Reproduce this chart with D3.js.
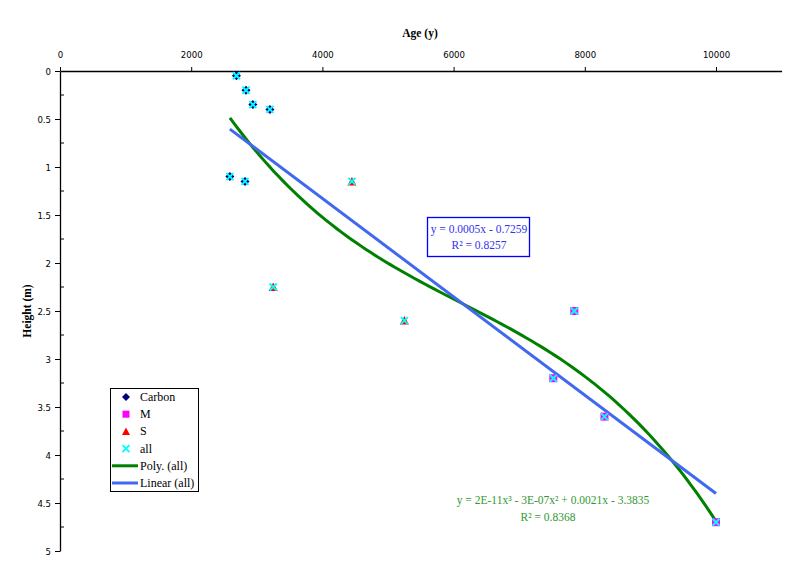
<!DOCTYPE html>
<html><head><meta charset="utf-8">
<script src="https://cdn.jsdelivr.net/npm/d3@7"></script>
<style>body{margin:0;background:#fff}svg{display:block}</style>
</head><body>
<svg id="c" width="810" height="561"></svg>
<script>
// ---- data ----
const carbonAge = [2690, 2835, 2940, 3200, 2590, 2820];
const carbonHeight = [0.05, 0.20, 0.35, 0.40, 1.10, 1.15];
const sAge = [4450, 3250, 5250];
const sHeight = [1.15, 2.25, 2.60];
const mAge = [7840, 7520, 8300, 10000];
const mHeight = [2.50, 3.20, 3.60, 4.70];
const xTicks = [0, 2000, 4000, 6000, 8000, 10000];
const yTicks = [0, 0.5, 1, 1.5, 2, 2.5, 3, 3.5, 4, 4.5, 5];
const legendLabels = ["Carbon", "M", "S", "all", "Poly. (all)", "Linear (all)"];
const linEqText = ["y = 0.0005x - 0.7259", "R² = 0.8257"];
const polyEqText = ["y = 2E-11x³ - 3E-07x² + 0.0021x - 3.3835", "R² = 0.8368"];

const svg = d3.select("#c");
const x = d3.scaleLinear().domain([0, 11000]).range([60, 781.6]);
const y = d3.scaleLinear().domain([0, 5]).range([71, 551]);

// axes
const xa = svg.append("g").attr("transform", "translate(0,71)")
  .call(d3.axisTop(x).tickValues(xTicks).tickFormat(d3.format("d")).tickSize(4).tickPadding(9).tickSizeOuter(0));
const ya = svg.append("g").attr("transform", "translate(60,0)")
  .call(d3.axisLeft(y).tickValues(yTicks).tickFormat(d3.format("")).tickSize(5).tickPadding(4).tickSizeOuter(0));
[xa, ya].forEach(g => {
  g.selectAll("path").attr("stroke", "#000").attr("stroke-width", 1.3);
  g.selectAll("line").attr("stroke", "#000");
  g.selectAll("text").attr("font-family", "DejaVu Sans Condensed, DejaVu Sans").attr("font-size", 9.5).attr("fill", "#000");
});
// minor ticks (inside)
const minor = d3.range(0.25, 5, 0.5);
svg.append("g").selectAll("line").data(minor).join("line")
  .attr("x1", 60).attr("x2", 64).attr("y1", d => y(d)).attr("y2", d => y(d)).attr("stroke", "#000");

// axis titles
svg.append("text").attr("x", 420).attr("y", 37).attr("text-anchor", "middle")
  .attr("font-family", "Liberation Serif").attr("font-weight", "bold").attr("font-size", 11.5).text("Age (y)");
svg.append("text").attr("transform", "translate(31,311) rotate(-90)").attr("text-anchor", "middle")
  .attr("font-family", "Liberation Serif").attr("font-weight", "bold").attr("font-size", 11.5).text("Height (m)");

// all data
const allAge = carbonAge.concat(mAge, sAge);
const allH = carbonHeight.concat(mHeight, sHeight);

// regression: linear
const n = allAge.length;
const mx = d3.mean(allAge), my = d3.mean(allH);
let sxy = 0, sxx = 0;
for (let i = 0; i < n; i++) { sxy += (allAge[i] - mx) * (allH[i] - my); sxx += (allAge[i] - mx) ** 2; }
const b1 = sxy / sxx, b0 = my - b1 * mx;
// cubic via normal equations on scaled x
function solve(A, b) {
  const m = A.length; A = A.map((r, i) => r.concat([b[i]]));
  for (let i = 0; i < m; i++) {
    let p = i; for (let k = i + 1; k < m; k++) if (Math.abs(A[k][i]) > Math.abs(A[p][i])) p = k;
    [A[i], A[p]] = [A[p], A[i]];
    for (let k = i + 1; k < m; k++) { const f = A[k][i] / A[i][i]; for (let j = i; j <= m; j++) A[k][j] -= f * A[i][j]; }
  }
  const r = new Array(m);
  for (let i = m - 1; i >= 0; i--) { let s = A[i][m]; for (let j = i + 1; j < m; j++) s -= A[i][j] * r[j]; r[i] = s / A[i][i]; }
  return r;
}
const deg = 3;
const M = [], B = [];
for (let i = 0; i <= deg; i++) {
  M.push([]); let s = 0;
  for (let k = 0; k < n; k++) s += Math.pow(allAge[k] / 1000, i) * allH[k];
  B.push(s);
  for (let j = 0; j <= deg; j++) { let t = 0; for (let k = 0; k < n; k++) t += Math.pow(allAge[k] / 1000, i + j); M[i].push(t); }
}
const coef = solve(M, B);
const poly = v => coef.reduce((s, c, i) => s + c * Math.pow(v / 1000, i), 0);
const xmin = d3.min(allAge), xmax = d3.max(allAge);
const samples = d3.range(0, 101).map(i => xmin + (xmax - xmin) * i / 100);

svg.append("path").datum(samples).attr("fill", "none").attr("stroke", "#008000").attr("stroke-width", 3)
  .attr("d", d3.line().x(d => x(d)).y(d => y(poly(d))));
svg.append("path").datum([xmin, xmax]).attr("fill", "none").attr("stroke", "#4169f0").attr("stroke-width", 3)
  .attr("d", d3.line().x(d => x(d)).y(d => y(b0 + b1 * d)));

// markers
const gm = svg.append("g");
gm.selectAll(".c").data(carbonAge).join("path")
  .attr("transform", (d, i) => `translate(${x(d)},${y(carbonHeight[i])})`)
  .attr("d", "M0,-4.5L4.5,0L0,4.5L-4.5,0Z").attr("fill", "#000080");
gm.selectAll(".m").data(mAge).join("rect")
  .attr("x", d => x(d) - 4).attr("y", (d, i) => y(mHeight[i]) - 4).attr("width", 8).attr("height", 8).attr("fill", "#ff00ff");
gm.selectAll(".s").data(sAge).join("path")
  .attr("transform", (d, i) => `translate(${x(d)},${y(sHeight[i])})`)
  .attr("d", "M0,-4.5L4.5,4L-4.5,4Z").attr("fill", "#ff0000");
gm.selectAll(".a").data(allAge).join("path")
  .attr("transform", (d, i) => `translate(${x(d)},${y(allH[i])})`)
  .attr("d", "M-3.5,-3.5L3.5,3.5M3.5,-3.5L-3.5,3.5").attr("stroke", "#00ffff").attr("stroke-width", 2);

// legend
const lg = svg.append("g");
lg.append("rect").attr("x", 110.5).attr("y", 388.5).attr("width", 88).attr("height", 103)
  .attr("fill", "#fff").attr("stroke", "#000").attr("stroke-width", 1);
const ly = i => 397 + i * 17.2;
lg.append("path").attr("transform", `translate(126,${ly(0)})`).attr("d", "M0,-4L4,0L0,4L-4,0Z").attr("fill", "#000080");
lg.append("rect").attr("x", 122.5).attr("y", ly(1) - 3.5).attr("width", 7).attr("height", 7).attr("fill", "#ff00ff");
lg.append("path").attr("transform", `translate(126,${ly(2)})`).attr("d", "M0,-4L4,3.5L-4,3.5Z").attr("fill", "#ff0000");
lg.append("path").attr("transform", `translate(126,${ly(3)})`).attr("d", "M-3.5,-3.5L3.5,3.5M3.5,-3.5L-3.5,3.5").attr("stroke", "#00ffff").attr("stroke-width", 2);
lg.append("line").attr("x1", 112).attr("x2", 138).attr("y1", ly(4)).attr("y2", ly(4)).attr("stroke", "#008000").attr("stroke-width", 3);
lg.append("line").attr("x1", 112).attr("x2", 138).attr("y1", ly(5)).attr("y2", ly(5)).attr("stroke", "#4169f0").attr("stroke-width", 3);
lg.selectAll("text.l").data(legendLabels).join("text")
  .attr("x", 140).attr("y", (d, i) => ly(i) + 4).attr("font-family", "Liberation Serif").attr("font-size", 12).attr("fill", "#000").text(d => d);

// equation boxes
svg.append("rect").attr("x", 427.5).attr("y", 217.5).attr("width", 102).attr("height", 39)
  .attr("fill", "#fff").attr("stroke", "#0000ff").attr("stroke-width", 1.3);
svg.append("text").attr("x", 479).attr("y", 232.5).attr("text-anchor", "middle").attr("font-family", "Liberation Serif")
  .attr("font-size", 11.5).attr("fill", "#3333ee").text(linEqText[0]);
svg.append("text").attr("x", 479).attr("y", 249).attr("text-anchor", "middle").attr("font-family", "Liberation Serif")
  .attr("font-size", 11.5).attr("fill", "#3333ee").text(linEqText[1]);
svg.append("text").attr("x", 553).attr("y", 504).attr("text-anchor", "middle").attr("font-family", "Liberation Serif")
  .attr("font-size", 11.5).attr("fill", "#339933").text(polyEqText[0]);
svg.append("text").attr("x", 548).attr("y", 521).attr("text-anchor", "middle").attr("font-family", "Liberation Serif")
  .attr("font-size", 11.5).attr("fill", "#339933").text(polyEqText[1]);
</script>
</body></html>
